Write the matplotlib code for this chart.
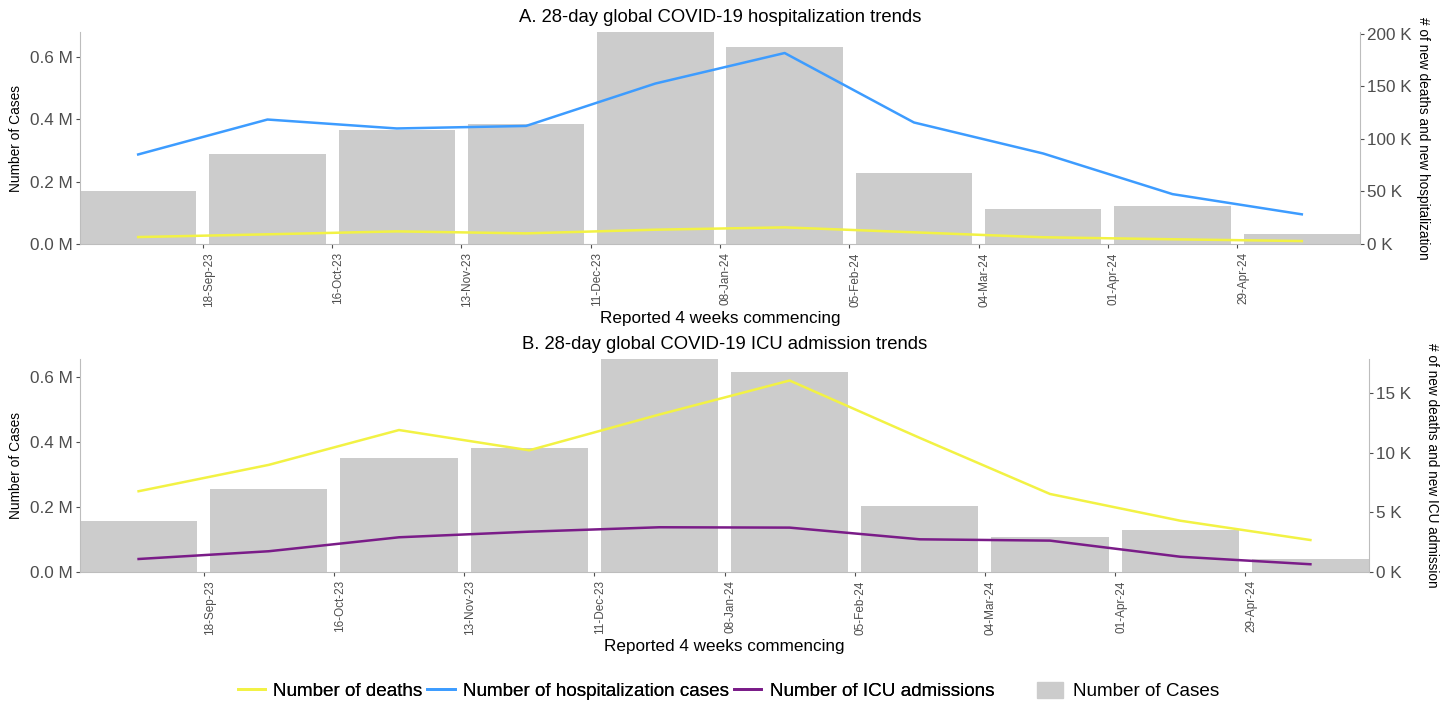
import numpy as np
import matplotlib
matplotlib.use("Agg")
import matplotlib.pyplot as plt
import matplotlib.dates as mdates
from matplotlib.ticker import FuncFormatter
from matplotlib.lines import Line2D
from matplotlib.patches import Patch

plt.rcParams['font.family'] = ['Liberation Sans', 'DejaVu Sans']

# 4-week reporting periods (start dates)
commencing = ['2023-08-21', '2023-09-18', '2023-10-16', '2023-11-13', '2023-12-11',
              '2024-01-08', '2024-02-05', '2024-03-04', '2024-04-01', '2024-04-29']

# A. hospitalization panel
cases_a = [169000, 290000, 366000, 385000, 681000, 634000, 229000, 112000, 122000, 33000]
hosp_a = [85100, 118300, 109800, 112200, 152500, 181500, 115500, 86000, 47400, 28200]
deaths_a = [6600, 9200, 12000, 10100, 13600, 15800, 11100, 6400, 4500, 2800]

# B. ICU panel
cases_b = [157000, 257000, 352000, 382000, 657000, 618000, 203000, 107000, 129000, 41000]
icu_b = [1090, 1740, 2910, 3380, 3750, 3720, 2740, 2630, 1280, 650]
deaths_b = [6770, 8980, 11900, 10200, 13200, 16050, 11240, 6540, 4300, 2680]

tick_dates = commencing[1:]

C_BAR = '#cccccc'
C_DEATH = '#f2f244'
C_HOSP = '#3d9cff'
C_ICU = '#7a1c88'
GREY = '#4d4d4d'
AXLINE = '#bdbdbd'

start = mdates.date2num(np.array(commencing, dtype='datetime64[D]'))
centers = start + 14
width = 28 * 0.9
ticks = mdates.date2num(np.array(tick_dates, dtype='datetime64[D]'))

fig = plt.figure(figsize=(14.44, 7.05), dpi=100)

W, H = 1444, 705


def panel(box, cases, lines, title, rlabel, ratio, rticks, rfmt):
    l, t, r, b = box
    ax = fig.add_axes([l / W, 1 - b / H, (r - l) / W, (b - t) / H])
    ax.bar(centers, cases, width=width, color=C_BAR, zorder=1)
    ax.set_xlim(centers[0] - width / 2, centers[-1] + width / 2)
    top = max(cases)
    ax.set_ylim(0, top)
    ax.set_yticks([0, 200000, 400000, 600000])
    ax.yaxis.set_major_formatter(FuncFormatter(lambda v, p: f'{v / 1e6:.1f} M'))
    ax.set_xticks(ticks)
    # date labels hang just right of their ticks
    ax.set_xticklabels([mdates.num2date(d).strftime('%d-%b-%y') for d in ticks],
                       rotation=90, fontsize=8.5, color=GREY, ha='left')
    ax.tick_params(axis='y', labelsize=12.3, colors=GREY, length=3, width=0.8, pad=2)
    ax.tick_params(axis='x', colors=GREY, length=3, width=0.8, pad=3)
    for s in ['top', 'right']:
        ax.spines[s].set_visible(False)
    for s in ['left', 'bottom']:
        ax.spines[s].set_color(AXLINE)
    ax.set_title(title, fontsize=13.3, pad=7)

    ax2 = ax.twinx()
    for vals, col in lines:
        ax2.plot(centers, vals, color=col, lw=1.8, zorder=3)
    ax2.set_ylim(0, top / ratio)
    ax2.set_yticks(rticks)
    ax2.yaxis.set_major_formatter(FuncFormatter(rfmt))
    ax2.tick_params(axis='y', labelsize=12.3, colors=GREY, length=3, width=0.8, pad=2)
    for s in ['top', 'left', 'bottom']:
        ax2.spines[s].set_visible(False)
    ax2.spines['right'].set_color(AXLINE)

    cy = 1 - (t + b) / 2 / H
    fig.text(16 / W, cy, 'Number of Cases', rotation=90, ha='center', va='center', fontsize=9.9)
    fig.text((r + 63) / W, cy, rlabel, rotation=270, ha='center', va='center', fontsize=9.8)
    fig.text((l + r) / 2 / W, 1 - (b + 74) / H, 'Reported 4 weeks commencing',
             ha='center', va='center', fontsize=12.3)
    return ax


panel((80, 32, 1360, 244), cases_a, [(deaths_a, C_DEATH), (hosp_a, C_HOSP)],
      'A. 28-day global COVID-19 hospitalization trends',
      '# of new deaths and new hospitalization', 3.38,
      [0, 50000, 100000, 150000, 200000], lambda v, p: f'{v / 1e3:.0f} K')

panel((80, 359, 1369, 572), cases_b, [(deaths_b, C_DEATH), (icu_b, C_ICU)],
      'B. 28-day global COVID-19 ICU admission trends',
      '# of new deaths and new ICU admission', 36.8,
      [0, 5000, 10000, 15000], lambda v, p: f'{v / 1e3:.0f} K')

line_handles = [Line2D([], [], color=C_DEATH, lw=2),
                Line2D([], [], color=C_HOSP, lw=2),
                Line2D([], [], color=C_ICU, lw=2)]
line_labels = ['Number of deaths', 'Number of hospitalization cases', 'Number of ICU admissions']
leg1 = fig.legend(line_handles, line_labels, loc='center', bbox_to_anchor=(616 / W, 1 - 691 / H),
                  ncol=3, frameon=False, fontsize=13.6, handlelength=1.45, handletextpad=0.45,
                  columnspacing=0.25)
fig.add_artist(leg1)
fig.legend([Patch(color=C_BAR)], ['Number of Cases'], loc='center',
           bbox_to_anchor=(1128 / W, 1 - 691 / H), frameon=False, fontsize=13.6,
           handlelength=1.4, handleheight=1.0, handletextpad=0.5)

fig.savefig('out.png', dpi=100)
